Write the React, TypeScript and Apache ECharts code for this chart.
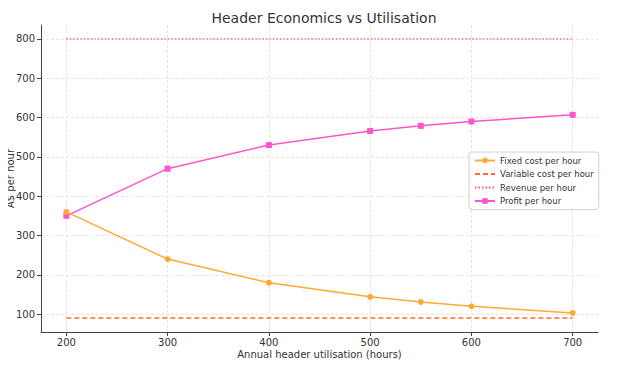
import React, { useEffect, useRef } from "react";
import * as echarts from "echarts";

const hours = [200, 300, 400, 500, 550, 600, 700];
const fixedCost = [360, 240, 180, 144, 131, 120, 103];
const variableCost = [90, 90, 90, 90, 90, 90, 90];
const revenue = [800, 800, 800, 800, 800, 800, 800];
const profit = [350, 470, 530, 566, 579, 590, 607];
const xTicks = [200, 300, 400, 500, 600, 700];
const yTicks = [100, 200, 300, 400, 500, 600, 700, 800];

const FONT = "DejaVu Sans";

export default function App() {
  const ref = useRef<HTMLDivElement>(null);
  useEffect(() => {
    if (!ref.current) return;
    const chart = echarts.init(ref.current, null, { renderer: "svg" });
    const pairs = (ys: number[]) => hours.map((h, i) => [h, ys[i]]);
    chart.setOption({
      animation: false,
      backgroundColor: "#fff",
      title: {
        text: "Header Economics vs Utilisation",
        left: 319,
        top: 6,
        textAlign: "center",
        textStyle: { fontFamily: FONT, fontSize: 14, fontWeight: "normal", color: "#333" },
      },
      grid: { left: 41, right: 21, top: 25, bottom: 42, containLabel: false, outerBoundsMode: "none" },
      legend: {
        orient: "vertical",
        left: 469,
        top: 152,
        itemGap: 4.5,
        itemWidth: 20,
        itemHeight: 7,
        padding: [4, 5, 4, 5],
        borderColor: "#d0d0d0",
        borderWidth: 1,
        borderRadius: 3,
        backgroundColor: "rgba(255,255,255,0.85)",
        textStyle: { fontFamily: FONT, fontSize: 8.5, color: "#333" },
        data: [
          { name: "Fixed cost per hour" },
          { name: "Variable cost per hour", itemStyle: { opacity: 0 } },
          { name: "Revenue per hour", itemStyle: { opacity: 0 } },
          { name: "Profit per hour" },
        ],
      },
      xAxis: {
        type: "value",
        min: 175,
        max: 725,
        name: "Annual header utilisation (hours)",
        nameLocation: "middle",
        nameGap: 22,
        nameMoveOverlap: false,
        nameTextStyle: { fontFamily: FONT, fontSize: 10, color: "#333", verticalAlign: "middle" },
        axisLine: { lineStyle: { color: "#444", width: 1 } },
        axisTick: { show: true, length: 4, customValues: xTicks, lineStyle: { color: "#444" } },
        axisLabel: { customValues: xTicks, fontFamily: FONT, fontSize: 10, color: "#333", margin: 5 },
        splitLine: { show: true, lineStyle: { color: "#e0e0e0", type: [3, 2], width: 0.8 } },
      },
      yAxis: {
        type: "value",
        min: 54.5,
        max: 835.5,
        name: "A$ per hour",
        nameLocation: "middle",
        nameGap: 31,
        nameMoveOverlap: false,
        nameRotate: 90,
        nameTextStyle: { fontFamily: FONT, fontSize: 10, color: "#333", verticalAlign: "middle" },
        axisLine: { show: true, lineStyle: { color: "#444", width: 1 } },
        axisTick: { show: true, length: 4, customValues: yTicks, lineStyle: { color: "#444" } },
        axisLabel: { customValues: yTicks, fontFamily: FONT, fontSize: 10, color: "#333", margin: 6 },
        splitLine: { show: true, lineStyle: { color: "#e0e0e0", type: [3, 2], width: 0.8 } },
      },
      series: [
        {
          name: "Fixed cost per hour",
          type: "line",
          data: pairs(fixedCost),
          symbol: "circle",
          symbolSize: 6,
          color: "#FFAA33",
          lineStyle: { width: 1.5, color: "#FFAA33" },
          z: 3,
        },
        {
          name: "Variable cost per hour",
          type: "line",
          data: pairs(variableCost),
          symbol: "none",
          color: "#FF6A33",
          lineStyle: { width: 1.5, type: [5, 3], color: "#FF6A33" },
        },
        {
          name: "Revenue per hour",
          type: "line",
          data: pairs(revenue),
          symbol: "none",
          color: "#FF4D88",
          lineStyle: { width: 1.2, type: [1.5, 2], color: "#FF4D88" },
        },
        {
          name: "Profit per hour",
          type: "line",
          data: pairs(profit),
          symbol: "rect",
          symbolSize: 6,
          color: "#FF55CC",
          lineStyle: { width: 1.5, color: "#FF55CC" },
          z: 2,
        },
      ],
    });
    return () => chart.dispose();
  }, []);
  return <div ref={ref} style={{ width: 619, height: 374, margin: -8 }} />;
}
